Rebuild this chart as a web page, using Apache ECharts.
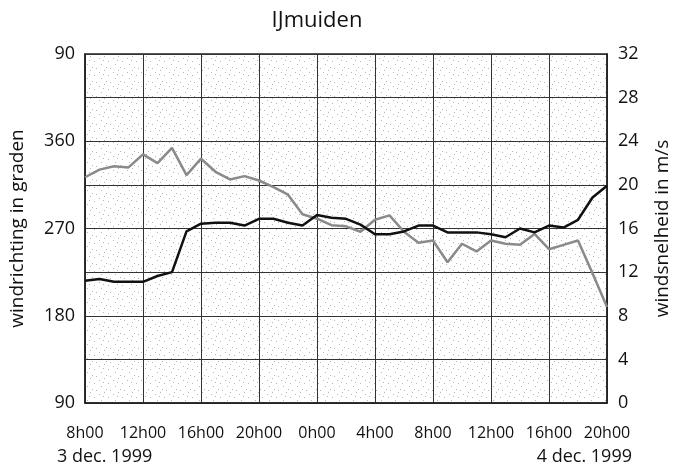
<!DOCTYPE html>
<html>
<head>
<meta charset="utf-8">
<script src="https://cdn.jsdelivr.net/npm/echarts@6/dist/echarts.min.js"></script>
<style>
  html, body { margin: 0; padding: 0; background: #fff; }
  #chart { width: 680px; height: 474px; }
</style>
</head>
<body>
<div id="chart"></div>
<script>
// hours since 3 dec. 1999 8h00
const xLabels = ["8h00", "12h00", "16h00", "20h00", "0h00", "4h00", "8h00", "12h00", "16h00", "20h00"]
// windrichting (graden), black line, hourly
const richting = [
    216, 218, 215, 215, 215, 221, 225, 267, 275, 276, 276, 273, 280,
    280, 276, 273, 284, 281, 280, 274, 264, 264, 267, 273, 273, 266,
    266, 266, 264, 261, 270, 266, 273, 271, 279, 302, 314,
]
// windsnelheid (m/s), grey line, hourly
const snelheid = [
    20.7, 21.4, 21.7, 21.6, 22.8, 22.0, 23.4, 20.9, 22.4, 21.2, 20.5, 20.8, 20.4,
    19.8, 19.1, 17.3, 16.9, 16.3, 16.2, 15.7, 16.8, 17.2, 15.7, 14.7, 14.9, 12.9,
    14.6, 13.9, 14.9, 14.6, 14.5, 15.5, 14.1, 14.5, 14.9, 11.9, 8.8,
]

const font = "Open Sans"

// stippled background
const pat = document.createElement("canvas")
pat.width = 14
pat.height = 14
const pctx = pat.getContext("2d")
pctx.fillStyle = "#fff"
pctx.fillRect(0, 0, 14, 14)
pctx.fillStyle = "#b5b5b5"
;[[1, 2], [6, 0], [10, 5], [3, 8], [8, 11], [12, 12], [5, 4]].forEach(([x, y]) => pctx.fillRect(x, y, 1, 1))

const chart = echarts.init(document.getElementById("chart"), null, { renderer: "canvas" })

chart.setOption({
    animation: false,
    title: {
        text: "IJmuiden",
        left: 312,
        top: 5,
        textAlign: "center",
        textStyle: { fontFamily: font, fontSize: 22, fontWeight: "normal", color: "#111" },
    },
    grid: {
        left: 83,
        right: 73,
        top: 54,
        bottom: 71,
        show: true,
        backgroundColor: { image: pat, repeat: "repeat" },
        borderColor: "#222",
        borderWidth: 1.5,
    },
    xAxis: {
        type: "value",
        min: 0,
        max: 36,
        interval: 4,
        axisLine: { show: true, lineStyle: { color: "#222", width: 1.5 } },
        axisTick: { show: false },
        splitLine: { show: true, lineStyle: { color: "#333", width: 1 } },
        axisLabel: {
            fontFamily: font,
            fontSize: 16,
            color: "#111",
            margin: 22,
            formatter: (v) => xLabels[v / 4],
        },
    },
    yAxis: [
        {
            type: "value",
            min: 90,
            max: 450,
            interval: 90,
            name: "windrichting in graden",
            nameLocation: "middle",
            nameGap: 58,
            nameTextStyle: { fontFamily: font, fontSize: 19, color: "#111" },
            axisLine: { show: true, lineStyle: { color: "#222", width: 1.5 } },
            axisTick: { show: false },
            splitLine: { show: false },
            axisLabel: {
                fontFamily: font,
                fontSize: 18,
                color: "#111",
                margin: 10,
                formatter: (v) => (v > 360 ? v - 360 : v),
            },
        },
        {
            type: "value",
            min: 0,
            max: 32,
            interval: 4,
            position: "right",
            name: "windsnelheid in m/s",
            nameLocation: "middle",
            nameGap: 46,
            nameRotate: 90,
            nameTextStyle: { fontFamily: font, fontSize: 19, color: "#111" },
            axisLine: { show: true, lineStyle: { color: "#222", width: 1.5 } },
            axisTick: { show: false },
            splitLine: { show: true, lineStyle: { color: "#333", width: 1 } },
            axisLabel: { fontFamily: font, fontSize: 18, color: "#111", margin: 11 },
        },
    ],
    graphic: [
        {
            type: "text",
            left: 57,
            top: 448,
            style: { text: "3 dec. 1999", font: "18px '" + font + "'", fill: "#111" },
        },
        {
            type: "text",
            right: 48,
            top: 448,
            style: { text: "4 dec. 1999", font: "18px '" + font + "'", fill: "#111" },
        },
    ],
    series: [
        {
            name: "windsnelheid",
            type: "line",
            yAxisIndex: 1,
            data: snelheid.map((v, i) => [i, v]),
            symbol: "none",
            lineStyle: { color: "#8a8a8a", width: 2.5 },
            z: 3,
        },
        {
            name: "windrichting",
            type: "line",
            yAxisIndex: 0,
            data: richting.map((v, i) => [i, v]),
            symbol: "none",
            lineStyle: { color: "#111", width: 2.5 },
            z: 4,
        },
    ],
})
</script>
</body>
</html>
